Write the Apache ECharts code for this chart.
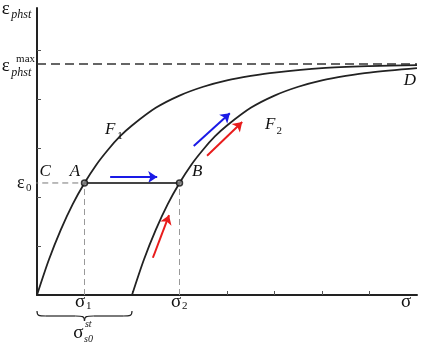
<!DOCTYPE html>
<html><head><meta charset="utf-8">
<script src="https://cdn.jsdelivr.net/npm/echarts@6/dist/echarts.min.js"></script>
<style>html,body{margin:0;padding:0;background:#fff}#c{width:424px;height:343px}</style>
</head><body><div id="c"></div>
<script>
// Curve F1 (x = sigma, y = epsilon)
const f1X = [0, 0.25, 0.5, 0.75, 1, 1.25, 1.5, 1.75, 2, 2.5, 3, 3.5, 4, 4.5, 5, 6, 7, 8];
const f1Y = [0, 0.72, 1.33, 1.85, 2.286, 2.66, 2.97, 3.24, 3.46, 3.82, 4.07, 4.25, 4.38, 4.47, 4.54, 4.63, 4.67, 4.69];
// Curve F2
const f2X = [2, 2.25, 2.5, 2.75, 3, 3.25, 3.5, 3.75, 4, 4.5, 5, 5.5, 6, 6.5, 7, 8];
const f2Y = [0, 0.72, 1.33, 1.85, 2.286, 2.66, 2.97, 3.24, 3.46, 3.82, 4.07, 4.25, 4.38, 4.47, 4.54, 4.63];
// key levels
const epsMax = 4.714;
const eps0 = 2.286;
const sigma1 = 1;
const sigma2 = 3;
const sigmaS0 = 2;
const xTicks = [1, 2, 3, 4, 5, 6, 7];
const yTicks = [1, 2, 3, 4, 5];
// arrows: [x1, y1, x2, y2]
const blueArrows = [[1.54, 2.41, 2.53, 2.41], [3.30, 3.04, 4.06, 3.71]];
const redArrows = [[3.58, 2.84, 4.32, 3.53], [2.44, 0.76, 2.78, 1.63]];

const chart = echarts.init(document.getElementById('c'));
const pair = (xs, ys) => xs.map((x, i) => [x, ys[i]]);
const SERIF = '"Liberation Serif", "DejaVu Serif", serif';

chart.setOption({
  animation: false,
  grid: {left: 37, right: 7, top: 8, bottom: 48},
  xAxis: {type: 'value', min: 0, max: 8, interval: 1,
    axisLine: {lineStyle: {color: '#222', width: 2}},
    axisTick: {inside: true, length: 4, customValues: xTicks, lineStyle: {color: '#555', width: 1}},
    axisLabel: {show: false}, splitLine: {show: false}},
  yAxis: {type: 'value', min: 0, max: 5.857, interval: 1,
    axisLine: {show: true, lineStyle: {color: '#222', width: 2}},
    axisTick: {show: true, inside: true, length: 4, customValues: yTicks, lineStyle: {color: '#555', width: 1}},
    axisLabel: {show: false}, splitLine: {show: false}},
  series: [
    {type: 'line', data: [[-0.1, eps0], [sigma1, eps0]], symbol: 'none', clip: false,
      lineStyle: {color: '#777', width: 1, type: [6, 4]}},
    {type: 'line', data: [[sigma1, 0], [sigma1, eps0]], symbol: 'none',
      lineStyle: {color: '#999', width: 1, type: [6, 4]}},
    {type: 'line', data: [[sigma2, 0], [sigma2, eps0]], symbol: 'none',
      lineStyle: {color: '#999', width: 1, type: [6, 4]}},
    {type: 'line', data: [[0, epsMax], [8, epsMax]], symbol: 'none',
      lineStyle: {color: '#333', width: 1.3, type: [9, 5]}},
    {type: 'line', data: pair(f1X, f1Y), symbol: 'none', smooth: 0.3,
      lineStyle: {color: '#222', width: 1.8}},
    {type: 'line', data: pair(f2X, f2Y), symbol: 'none', smooth: 0.3,
      lineStyle: {color: '#222', width: 1.8}},
    {type: 'line', data: [[sigma1, eps0], [sigma2, eps0]], symbol: 'none',
      lineStyle: {color: '#444', width: 2}},
    {type: 'lines', coordinateSystem: 'cartesian2d', symbol: ['none', 'arrow'], symbolSize: 9,
      data: blueArrows.map(a => ({coords: [[a[0], a[1]], [a[2], a[3]]]})),
      lineStyle: {color: '#1a1ae6', width: 2, opacity: 1}},
    {type: 'lines', coordinateSystem: 'cartesian2d', symbol: ['none', 'arrow'], symbolSize: 9,
      data: redArrows.map(a => ({coords: [[a[0], a[1]], [a[2], a[3]]]})),
      lineStyle: {color: '#e81c1c', width: 2, opacity: 1}},
    {type: 'scatter', data: [[sigma1, eps0], [sigma2, eps0]], symbol: 'circle', symbolSize: 6, z: 10,
      itemStyle: {color: '#8a8a8a', borderColor: '#111', borderWidth: 1.5}}
  ]
});

// text annotations anchored in data coordinates
// [text, x, y, size, italic, align]
const texts = [
  ['ε', -0.66, 5.84, 19, false, 'center'],
  ['phst', -0.54, 5.71, 12, true, 'left'],
  ['ε', -0.66, 4.67, 19, false, 'center'],
  ['max', -0.44, 4.82, 11, false, 'left'],
  ['phst', -0.54, 4.53, 12, true, 'left'],
  ['ε', -0.34, 2.29, 18, false, 'center'],
  ['0', -0.23, 2.18, 11, false, 'left'],
  ['C', 0.17, 2.51, 17, true, 'center'],
  ['A', 0.80, 2.51, 17, true, 'center'],
  ['B', 3.37, 2.51, 17, true, 'center'],
  ['D', 7.85, 4.37, 17, true, 'center'],
  ['F', 1.54, 3.37, 17, true, 'center'],
  ['1', 1.69, 3.24, 11, false, 'left'],
  ['F', 4.91, 3.47, 17, true, 'center'],
  ['2', 5.04, 3.35, 11, false, 'left'],
  ['σ', 7.77, -0.14, 19, false, 'center'],
  ['σ', 0.91, -0.15, 19, false, 'center'],
  ['1', 1.03, -0.23, 11, false, 'left'],
  ['σ', 2.93, -0.15, 19, false, 'center'],
  ['2', 3.05, -0.23, 11, false, 'left'],
  ['σ', 0.87, -0.78, 19, false, 'center'],
  ['st', 1.01, -0.60, 10, true, 'left'],
  ['s0', 0.99, -0.90, 10, true, 'left']
];
const P = (x, y) => chart.convertToPixel({gridIndex: 0}, [x, y]);
const g = texts.map(t => {
  const p = P(t[1], t[2]);
  return {type: 'text', x: p[0], y: p[1], z: 100, style: {text: t[0], fill: '#111',
    font: (t[4] ? 'italic ' : '') + t[3] + 'px ' + SERIF, textAlign: t[5], textVerticalAlign: 'middle'}};
});
// brace under sigma axis spanning 0..sigmaS0
const bl = P(0, 0), br = P(sigmaS0, 0), bc = P(sigmaS0 / 2, 0);
const yt = bl[1] + 16, ym = bl[1] + 21, yb = bl[1] + 26;
const bs = {stroke: '#222', lineWidth: 1.2, fill: 'none'};
const x0 = bl[0], x1 = br[0], xc = bc[0];
g.push({type: 'bezierCurve', shape: {x1: x0, y1: yt, x2: x0 + 9, y2: ym, cpx1: x0, cpy1: ym, cpx2: x0 + 2, cpy2: ym}, style: bs});
g.push({type: 'line', shape: {x1: x0 + 9, y1: ym, x2: xc - 9, y2: ym}, style: bs});
g.push({type: 'bezierCurve', shape: {x1: xc - 9, y1: ym, x2: xc, y2: yb, cpx1: xc - 2, cpy1: ym, cpx2: xc, cpy2: ym}, style: bs});
g.push({type: 'bezierCurve', shape: {x1: xc, y1: yb, x2: xc + 9, y2: ym, cpx1: xc, cpy1: ym, cpx2: xc + 2, cpy2: ym}, style: bs});
g.push({type: 'line', shape: {x1: xc + 9, y1: ym, x2: x1 - 9, y2: ym}, style: bs});
g.push({type: 'bezierCurve', shape: {x1: x1 - 9, y1: ym, x2: x1, y2: yt, cpx1: x1 - 2, cpy1: ym, cpx2: x1, cpy2: ym}, style: bs});
chart.setOption({graphic: g});
</script></body></html>
